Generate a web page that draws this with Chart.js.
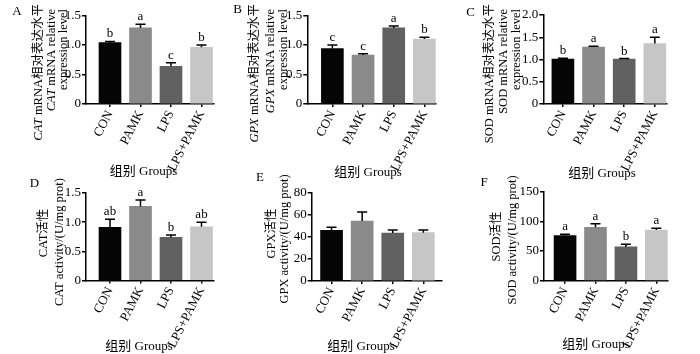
<!DOCTYPE html>
<html><head><meta charset="utf-8">
<script src="https://cdn.jsdelivr.net/npm/chart.js"></script>
<style>
html,body{margin:0;padding:0;background:#fff;}
#wrap{position:relative;width:700px;height:354px;overflow:hidden;background:#fff;}
canvas{position:absolute;left:0;top:0;}
</style></head><body>
<div id="wrap">
<canvas id="cA" width="700" height="354"></canvas>
<canvas id="cB" width="700" height="354"></canvas>
<canvas id="cC" width="700" height="354"></canvas>
<canvas id="cD" width="700" height="354"></canvas>
<canvas id="cE" width="700" height="354"></canvas>
<canvas id="cF" width="700" height="354"></canvas>
</div>
<script>
// ---------- data ----------
const categories = ['CON', 'PAMK', 'LPS', 'LPS+PAMK'];
const xTitle = '组别 Groups';

const catMrna = [1.04, 1.29, 0.64, 0.96];
const catMrnaErr = [0.02, 0.06, 0.06, 0.04];
const catMrnaSig = ['b', 'a', 'c', 'b'];

const gpxMrna = [0.94, 0.83, 1.29, 1.10];
const gpxMrnaErr = [0.06, 0.02, 0.03, 0.03];
const gpxMrnaSig = ['c', 'c', 'a', 'b'];

const sodMrna = [1.01, 1.28, 1.01, 1.36];
const sodMrnaErr = [0.02, 0.02, 0.01, 0.14];
const sodMrnaSig = ['b', 'a', 'b', 'a'];

const catAct = [0.91, 1.27, 0.74, 0.92];
const catActErr = [0.14, 0.11, 0.04, 0.08];
const catActSig = ['ab', 'a', 'b', 'ab'];

const gpxAct = [45.7, 54.1, 43.3, 43.6];
const gpxActErr = [2.8, 8.2, 2.7, 2.5];
const gpxActSig = ['', '', '', ''];

const sodAct = [76, 90, 57, 85.5];
const sodActErr = [2.2, 6, 4.5, 2.8];
const sodActSig = ['a', 'a', 'b', 'a'];

const ticks15 = [0, 0.5, 1.0, 1.5];
const ticks15Labels = ['0', '0.5', '1.0', '1.5'];
const ticks20 = [0, 0.5, 1.0, 1.5, 2.0];
const ticks20Labels = ['0', '0.5', '1.0', '1.5', '2.0'];
const ticks80 = [0, 20, 40, 60, 80];
const ticks80Labels = ['0', '20', '40', '60', '80'];
const ticks150 = [0, 50, 100, 150];
const ticks150Labels = ['0', '50', '100', '150'];

// ---------- style ----------
const barColors = ['#050505', '#8a8a8a', '#616161', '#c6c6c6'];
const SERIF = "'Liberation Serif', 'Noto Sans CJK SC', serif";
Chart.defaults.font.family = SERIF;
Chart.defaults.color = '#000';

const Y_W = 40;

const panels = [
  { id: 'cA', letter: 'A', lx: 17, ly: 11.5, values: catMrna, errors: catMrnaErr, sig: catMrnaSig,
    yMax: 1.5, yTicks: ticks15, yLabels: ticks15Labels,
    axisL: 86, axisR: 214, top: 15.5, bottom: 104, xMin: -0.787, xMax: 3.41, titleX: 143.5, titleY: 172,
    lines: [
      { x: 38.5, top: 4, segs: [['CAT', true], [' mRNA相对表达水平', false]] },
      { x: 52, top: 9, segs: [['CAT', true], [' mRNA relative', false]] },
      { x: 64, top: 9, segs: [['expression level', false]] } ] },
  { id: 'cB', letter: 'B', lx: 237.5, ly: 9.5, values: gpxMrna, errors: gpxMrnaErr, sig: gpxMrnaSig,
    yMax: 1.5, yTicks: ticks15, yLabels: ticks15Labels,
    axisL: 307.3, axisR: 436, top: 15.5, bottom: 104, xMin: -0.818, xMax: 3.378, titleX: 368, titleY: 173,
    lines: [
      { x: 255, top: 4, segs: [['GPX', true], [' mRNA相对表达水平', false]] },
      { x: 271, top: 9, segs: [['GPX', true], [' mRNA relative', false]] },
      { x: 284, top: 9, segs: [['expression level', false]] } ] },
  { id: 'cC', letter: 'C', lx: 470.5, ly: 12.5, values: sodMrna, errors: sodMrnaErr, sig: sodMrnaSig,
    yMax: 2.0, yTicks: ticks20, yLabels: ticks20Labels,
    axisL: 543.3, axisR: 667, top: 15, bottom: 104, xMin: -0.64, xMax: 3.397, titleX: 602, titleY: 174,
    lines: [
      { x: 489.5, top: 4, segs: [['SOD mRNA相对表达水平', false]] },
      { x: 504, top: 9, segs: [['SOD mRNA relative', false]] },
      { x: 517, top: 9, segs: [['expression level', false]] } ] },
  { id: 'cD', letter: 'D', lx: 34.5, ly: 184, values: catAct, errors: catActErr, sig: catActSig,
    yMax: 1.5, yTicks: ticks15, yLabels: ticks15Labels,
    axisL: 86, axisR: 214, top: 193, bottom: 280.5, xMin: -0.787, xMax: 3.41, titleX: 139, titleY: 347,
    lines: [
      { x: 44, cy: 233, segs: [['CAT活性', false]] },
      { x: 60, cy: 242, segs: [['CAT activity/(U/mg prot)', false]] } ] },
  { id: 'cE', letter: 'E', lx: 260, ly: 178, values: gpxAct, errors: gpxActErr, sig: gpxActSig,
    yMax: 80, yTicks: ticks80, yLabels: ticks80Labels,
    axisL: 311.7, axisR: 441.7, top: 192.3, bottom: 281, xMin: -0.649, xMax: 3.6, titleX: 361, titleY: 347,
    lines: [
      { x: 271.5, cy: 233.5, segs: [['GPX活性', false]] },
      { x: 285, cy: 239, segs: [['GPX activity/(U/mg prot)', false]] } ] },
  { id: 'cF', letter: 'F', lx: 484, ly: 182.5, values: sodAct, errors: sodActErr, sig: sodActSig,
    yMax: 150, yTicks: ticks150, yLabels: ticks150Labels,
    axisL: 544, axisR: 668, top: 191.7, bottom: 280.7, xMin: -0.692, xMax: 3.383, titleX: 596, titleY: 345,
    lines: [
      { x: 497, cy: 236.5, segs: [['SOD活性', false]] },
      { x: 512.5, cy: 240, segs: [['SOD activity/(U/mg prot)', false]] } ] }
];

const TITLE_PX = 12.5;
function fontFor(italic) { return (italic ? 'italic ' : '') + TITLE_PX + 'px ' + SERIF; }

function makeDeco(p) {
  return {
    id: 'deco' + p.id,
    afterDraw(chart) {
      const ctx = chart.ctx;
      const ys = chart.scales.y;
      const meta = chart.getDatasetMeta(0);
      ctx.save();
      // error bars + significance letters
      ctx.strokeStyle = '#000';
      ctx.lineWidth = 1.5;
      p.values.forEach((v, i) => {
        const x = meta.data[i].x;
        const y0 = ys.getPixelForValue(v);
        const y1 = ys.getPixelForValue(v + p.errors[i]);
        ctx.beginPath();
        ctx.moveTo(x, y0); ctx.lineTo(x, y1);
        ctx.moveTo(x - 5, y1); ctx.lineTo(x + 5, y1);
        ctx.stroke();
        if (p.sig[i]) {
          ctx.fillStyle = '#000';
          ctx.font = '13px ' + SERIF;
          ctx.textAlign = 'center';
          ctx.textBaseline = 'alphabetic';
          ctx.fillText(p.sig[i], x, y1 - 4);
        }
      });
      ctx.fillStyle = '#000';
      // panel letter
      ctx.font = '13px ' + SERIF;
      ctx.textAlign = 'center';
      ctx.textBaseline = 'middle';
      ctx.fillText(p.letter, p.lx, p.ly);
      // x-axis title
      ctx.font = '13px ' + SERIF;
      ctx.fillText(xTitle, p.titleX, p.titleY);
      // rotated y titles (mixed italic)
      p.lines.forEach(line => {
        let total = 0;
        const widths = line.segs.map(s => { ctx.font = fontFor(s[1]); const w = ctx.measureText(s[0]).width; total += w; return w; });
        const yStart = line.cy !== undefined ? line.cy + total / 2 : line.top + total;
        ctx.save();
        ctx.translate(line.x, yStart);
        ctx.rotate(-Math.PI / 2);
        ctx.textAlign = 'left';
        ctx.textBaseline = 'middle';
        let off = 0;
        line.segs.forEach((s, k) => {
          ctx.font = fontFor(s[1]);
          ctx.fillText(s[0], off, 0);
          off += widths[k];
        });
        ctx.restore();
      });
      ctx.restore();
    }
  };
}

function makePanel(p) {
  const scaleBottom = p.titleY + 6.5;
  const xH = scaleBottom - p.bottom;
  return new Chart(document.getElementById(p.id), {
    type: 'bar',
    data: {
      datasets: [{
        data: p.values.map((v, i) => ({ x: i, y: v })),
        backgroundColor: barColors,
        borderWidth: 0,
        barThickness: 22
      }]
    },
    options: {
      responsive: false,
      animation: false,
      devicePixelRatio: 1,
      events: [],
      layout: { padding: { left: p.axisL - Y_W, right: 700 - p.axisR, top: p.top, bottom: 354 - scaleBottom } },
      plugins: { legend: { display: false }, tooltip: { enabled: false } },
      scales: {
        x: {
          type: 'linear', min: p.xMin, max: p.xMax, offset: false, z: 1,
          afterBuildTicks: s => { s.ticks = categories.map((c, i) => ({ value: i })); },
          afterFit: s => { s.height = xH; },
          grid: { display: true, drawOnChartArea: false, drawTicks: true, tickLength: 3, color: '#000', lineWidth: 1.5, offset: false },
          border: { display: true, color: '#000', width: 1.5 },
          ticks: { autoSkip: false, minRotation: 63, maxRotation: 63, padding: 1, color: '#000', font: { size: 13 },
                   callback: v => categories[v] },
          title: { display: false, text: xTitle }
        },
        y: {
          min: 0, max: p.yMax, z: 1,
          afterBuildTicks: s => { s.ticks = p.yTicks.map(v => ({ value: v })); },
          afterFit: s => { s.width = Y_W; },
          grid: { display: true, drawOnChartArea: false, drawTicks: true, tickLength: 4, color: '#000', lineWidth: 1.5 },
          border: { display: true, color: '#000', width: 1.5 },
          ticks: { padding: 1, color: '#000', font: { size: 13 },
                   callback: v => { const k = p.yTicks.indexOf(v); return k >= 0 ? p.yLabels[k] : ''; } }
        }
      }
    },
    plugins: [makeDeco(p)]
  });
}

panels.forEach(makePanel);
</script>
</body></html>
